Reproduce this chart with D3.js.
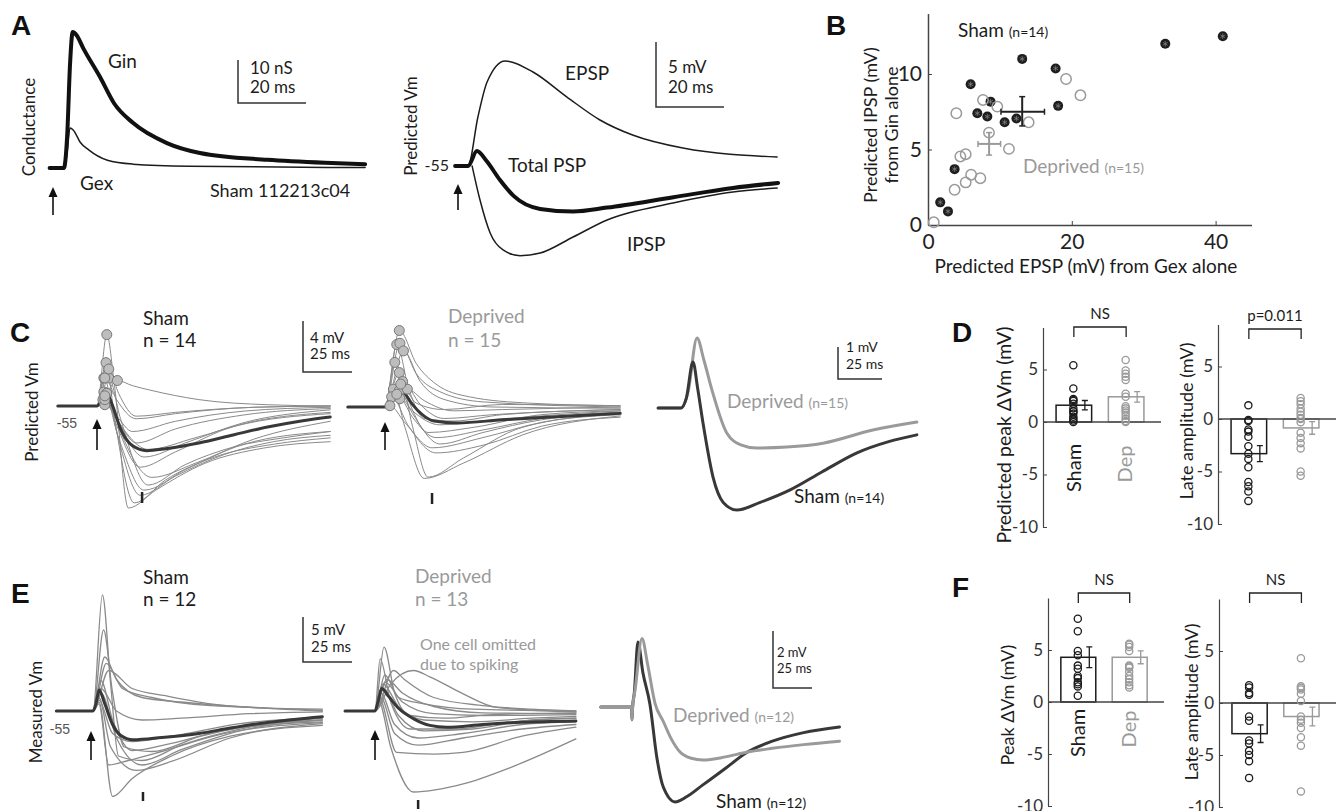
<!DOCTYPE html>
<html lang="en">
<head>
<meta charset="UTF-8">
<title>Predicted and measured PSPs</title>
<script src="https://d3js.org/d3.v7.min.js"></script>
<style>
  body { margin: 0; background: #fff; }
  svg { display: block; font-family: Lato, "Open Sans", sans-serif; }
</style>
</head>
<body>
<svg width="1339" height="811"></svg>
<script>
// ---- panel A: example cell (time ms, conductance nS / Vm mV re -55)
const gInTrace = [[-1,0],[3.2,0],[4.2,8],[5,24],[5.8,31.6],[7,30.8],[8.8,28],[13.8,21.2],[18,15],[23.5,10.5],[33.5,5.8],[43.2,3.5],[63,1.9],[80,1.2],[91.8,0.9]];
const gExTrace = [[-1,0],[3.4,0],[4.2,4],[5,9.3],[6,8.8],[8,6],[10.5,4.2],[16,1.8],[23.5,0.9],[40,0.4],[91.8,0.1]];
const epspTrace = [[-3.2,0],[0.6,0],[3.5,3.77],[6.2,6.46],[11.5,8.08],[19.7,7.23],[29.7,5.3],[39.4,3.54],[49,2.38],[63.8,1.38],[91.5,0.69]];
const totalTrace = [[-3.2,0],[0.6,0],[3.2,1.15],[6,0.4],[10,-1.08],[14,-2.3],[21.8,-3.3],[31.5,-3.5],[41.5,-3.2],[61,-2.4],[78.5,-1.69],[91.8,-1.3]];
const ipspTrace = [[1.8,0],[4.1,-2.6],[7.1,-5.15],[10.9,-6.46],[15.9,-6.9],[21.8,-6.7],[31.5,-5.46],[41.5,-4.15],[60.9,-2.85],[78.5,-2.0],[91.5,-1.7]];

// ---- panel B: predicted EPSP (x) vs IPSP (y), mV
const bSham = [[41.0,12.5],[33.0,12.0],[13.1,11.0],[17.75,10.37],[5.93,9.32],[8.7,8.17],[18.1,7.89],[6.86,7.4],[8.25,7.18],[12.3,7.05],[10.66,6.8],[3.7,3.7],[1.7,1.5],[2.78,0.9]];
const bDep = [[0.8,0.18],[3.7,2.33],[5.24,2.82],[6.0,3.33],[7.28,3.1],[4.5,4.54],[5.24,4.69],[3.94,7.4],[7.65,8.28],[9.64,7.84],[8.48,6.12],[11.26,5.04],[14.0,6.8],[19.2,9.67],[21.2,8.59]];
// mean x, mean y, x low, x high, y low, y high
const bShamMean = [13.1, 7.5, 10.15, 16.2, 6.56, 8.5];
const bDepMean = [8.5, 5.37, 6.95, 10.1, 4.63, 6.12];
const bXTicks = [0, 20, 40];
const bYTicks = [0, 5, 10];

// ---- panel C: predicted Vm per cell (ms, mV re -55)
const cShamCells = [
  [[-20,0],[0,0],[5,5.6],[9,1.5],[16,-8.0],[30,-6.6],[55,-4.5],[85,-3.3],[119,-2.8]],
  [[-20,0],[0,0],[4.6,3.4],[9,-1.0],[19,-7.6],[35,-5.8],[60,-4.0],[90,-3.0],[119,-2.5]],
  [[-20,0],[0,0],[3.5,2.2],[10,-2.0],[22,-7.0],[40,-5.5],[65,-3.8],[90,-2.8],[119,-2.3]],
  [[-20,0],[0,0],[6,2.2],[12,-1.0],[26,-6.2],[45,-4.6],[70,-3.2],[95,-2.5],[119,-2.0]],
  [[-20,0],[0,0],[10.4,2.0],[18,1.6],[27,1.25],[52,0.5],[87,0.1],[119,0]],
  [[-20,0],[0,0],[3.5,1.1],[10,-1.5],[22,-4.8],[40,-3.6],[70,-1.6],[119,-0.6]],
  [[-20,0],[0,0],[5,1.0],[11,-1.2],[24,-4.0],[45,-2.9],[75,-1.3],[119,-0.3]],
  [[-20,0],[0,0],[3,0.5],[10,-1.0],[20,-2.9],[40,-1.8],[75,-0.7],[119,-0.2]],
  [[-20,0],[0,0],[4,0.1],[10,-0.8],[18,-2.0],[40,-1.2],[75,-0.4],[119,-0.1]],
  [[-20,0],[0,0],[4,2.2],[10,0.5],[20,-1.0],[40,-0.6],[80,-0.1],[119,0]],
  [[-20,0],[0,0],[5,1.0],[12,-2.0],[28,-5.6],[50,-4.5],[80,-2.6],[119,-1.2]],
  [[-20,0],[0,0],[4,0.5],[12,-1.5],[26,-3.4],[50,-2.5],[80,-1.2],[119,-0.5]],
  [[-20,0],[0,0],[6,2.9],[11,1.0],[20,-0.8],[40,-0.5],[80,-0.1],[119,0]],
  [[-20,0],[0,0],[4,0.8],[11,-2.5],[24,-6.6],[45,-5.0],[75,-3.0],[119,-2.0]]
];
const cShamMean = [[-20,0],[0,0],[2,0.4],[4.6,1.1],[8,0],[12,-1.8],[18,-3.1],[25.5,-3.5],[35,-3.35],[52,-2.9],[70,-2.25],[87,-1.65],[105,-1.15],[119,-0.86]];
const cDepCells = [
  [[-19,0],[0,0],[7.3,6.0],[16,3.4],[26,1.8],[43,0.8],[74,0.3],[120,0.1]],
  [[-19,0],[0,0],[6,4.9],[12,1.5],[20,-0.9],[35,-1.1],[60,-0.6],[120,-0.2]],
  [[-19,0],[0,0],[7.6,5.0],[16,2.6],[28,1.2],[50,0.4],[120,0]],
  [[-19,0],[0,0],[9.4,4.4],[18,2.0],[30,0.6],[55,0.0],[120,-0.1]],
  [[-19,0],[0,0],[7.3,2.7],[14,-1.5],[22,-5.5],[40,-4.0],[70,-1.6],[120,-0.5]],
  [[-19,0],[0,0],[4.3,1.4],[10,-1.5],[20,-5.6],[40,-4.4],[70,-2.2],[120,-0.7]],
  [[-19,0],[0,0],[7.3,1.3],[14,-0.5],[28,-2.9],[50,-2.0],[80,-1.0],[120,-0.5]],
  [[-19,0],[0,0],[11.4,1.4],[20,0.5],[35,-0.3],[60,-0.2],[120,0]],
  [[-19,0],[0,0],[3.4,0.8],[12,-1.5],[26,-3.6],[50,-3.0],[80,-1.5],[120,-0.8]],
  [[-19,0],[0,0],[7.6,0.65],[14,-0.8],[26,-2.4],[50,-1.8],[80,-0.9],[120,-0.4]],
  [[-19,0],[0,0],[2.5,0.1],[10,-1.2],[24,-3.2],[50,-2.4],[80,-1.2],[120,-0.6]],
  [[-19,0],[0,0],[6,1.0],[14,-0.3],[28,-1.4],[55,-1.0],[120,-0.3]],
  [[-19,0],[0,0],[9,2.0],[18,0.2],[30,-0.9],[55,-0.6],[120,-0.2]],
  [[-19,0],[0,0],[5,3.5],[12,0.5],[22,-2.0],[45,-1.6],[80,-0.6],[120,-0.3]],
  [[-19,0],[0,0],[8,1.8],[16,0.3],[30,-0.2],[60,0.2],[120,0.1]]
];
const cDepMean = [[-19,0],[0,0],[3,0.6],[7,1.8],[10.5,1.0],[14,0.2],[19,-0.6],[25,-1.1],[37,-1.25],[60,-1.0],[90,-0.75],[120,-0.5]];
const cShamAvg = [[-13,0],[0,0],[3,0.3],[6.8,1.44],[9.5,0.6],[12.5,-0.47],[18.2,-2.16],[24,-2.95],[31.8,-3.19],[45,-2.95],[62,-2.56],[80,-2.0],[100,-1.4],[118,-1.05],[134,-0.84]];
const cDepAvg = [[-13,0],[0,0],[4,0.5],[9.1,2.19],[13,1.5],[17.6,0.56],[26,-0.78],[34,-1.15],[43,-1.25],[60,-1.22],[80.7,-1.1],[109,-0.69],[134,-0.44]];

// ---- panel E: measured Vm per cell (ms, mV re -55)
const eShamCells = [
  [[-18.7,0],[0,0],[4.8,12.9],[9,3.0],[13,-5.0],[25,-5.5],[45,-3.8],[80,-1.8],[117,-0.8]],
  [[-18.7,0],[0,0],[5.4,9.0],[10,2.0],[16,-4.0],[30,-4.5],[55,-2.8],[85,-1.5],[117,-1.0]],
  [[-18.7,0],[0,0],[6,6.0],[12,3.5],[25,1.5],[45,1.0],[80,0.4],[117,0.1]],
  [[-18.7,0],[0,0],[6.8,5.3],[15,2.5],[30,1.5],[60,0.6],[117,0.2]],
  [[-18.7,0],[0,0],[8,4.5],[20,2.5],[37,1.7],[60,0.8],[90,0.3],[117,0]],
  [[-18.7,0],[0,0],[4,3.4],[10,-1.0],[20,-4.4],[40,-3.6],[70,-2.0],[117,-1.2]],
  [[-18.7,0],[0,0],[3,1.0],[10,-9.5],[20,-7.5],[40,-5.0],[70,-2.8],[117,-1.6]],
  [[-18.7,0],[0,0],[3,1.5],[9,-4.0],[22,-6.6],[40,-5.6],[70,-3.0],[117,-1.4]],
  [[-18.7,0],[0,0],[4,2.0],[12,-3.0],[25,-6.0],[45,-4.3],[75,-2.2],[117,-1.0]],
  [[-18.7,0],[0,0],[3,1.2],[10,-2.5],[20,-3.4],[40,-2.8],[75,-1.4],[117,-0.7]],
  [[-18.7,0],[0,0],[4,2.5],[12,0.0],[25,-1.0],[45,-0.8],[80,-0.3],[117,-0.1]],
  [[-18.7,0],[0,0],[3,0.8],[8,-6.0],[18,-5.5],[35,-4.5],[65,-2.6],[117,-1.3]]
];
const eShamMean = [[-18.7,0],[0,0],[1.5,0.8],[3.1,2.33],[6,0.8],[10,-1.5],[14,-2.7],[20.4,-3.2],[35,-2.95],[54,-2.5],[70,-1.9],[88,-1.3],[117,-0.63]];
const eDepCells = [
  [[-15.3,0],[0,0],[4.6,7.1],[10,2.0],[18,-0.5],[35,-0.8],[60,-0.4],[102.5,-0.2]],
  [[-15.3,0],[0,0],[2.6,5.8],[8,1.0],[18,-2.0],[40,-2.0],[70,-1.2],[102.5,-0.8]],
  [[-15.3,0],[0,0],[9.4,4.5],[15,3.5],[30,1.5],[55,0.6],[80,0.2],[102.5,0]],
  [[-15.3,0],[0,0],[8,3.0],[19.6,4.5],[28,3.8],[45,1.9],[62,0.4],[102.5,-0.1]],
  [[-15.3,0],[0,0],[2,1.0],[8,-4.0],[19.6,-9.0],[45,-8.1],[70,-6.2],[102.5,-3.1]],
  [[-15.3,0],[0,0],[2,1.5],[11,-4.6],[30,-4.8],[45,-4.6],[75,-2.8],[102.5,-1.8]],
  [[-15.3,0],[0,0],[4,3.0],[12,0.5],[25,-1.0],[50,-1.2],[80,-0.8],[102.5,-0.6]],
  [[-15.3,0],[0,0],[5,4.0],[12,1.5],[25,0.8],[50,0.2],[102.5,0]],
  [[-15.3,0],[0,0],[3,2.0],[10,-1.5],[22,-3.0],[45,-2.5],[75,-1.5],[102.5,-1.2]],
  [[-15.3,0],[0,0],[6,3.5],[14,2.0],[30,0.5],[55,-0.2],[102.5,-0.3]],
  [[-15.3,0],[0,0],[3,1.5],[10,-2.5],[22,-3.8],[45,-3.0],[75,-2.0],[102.5,-1.5]],
  [[-15.3,0],[0,0],[4,2.5],[12,-0.5],[25,-2.2],[50,-2.0],[80,-1.0],[102.5,-0.8]],
  [[-15.3,0],[0,0],[5,3.2],[14,1.0],[30,-0.3],[55,-0.5],[102.5,-0.4]]
];
const eDepMean = [[-15.3,0],[0,0],[1.5,1.0],[3.4,2.5],[7,1.6],[12,0.3],[20,-0.9],[28,-1.6],[36.6,-1.8],[55,-1.5],[75,-1.25],[102.5,-1.1]];
const eShamAvg = [[-20,0],[-0.3,0],[0,-0.45],[0.4,0],[1.5,0.5],[3.8,2.28],[7,1.2],[11.5,0.1],[16,-1.8],[20,-2.8],[27.6,-3.33],[35,-3.15],[45,-2.75],[60,-2.15],[74,-1.58],[90,-1.2],[110,-0.9],[133,-0.7]];
const eDepAvg = [[-20,0],[-0.3,0],[0,-0.45],[0.4,0],[2,0.6],[6.4,2.4],[10,1.5],[14.7,0.14],[20,-0.5],[25,-1.1],[30.8,-1.58],[38,-1.8],[45.5,-1.86],[60,-1.75],[74,-1.58],[90,-1.45],[110,-1.32],[133,-1.2]];

// ---- panels D and F: per-cell values (mV), means and SEM [Sham, Dep]
const groups = ["Sham", "Dep"];
const dPeakSham = [5.4, 3.2, 2.2, 2.1, 2.0, 1.75, 1.3, 1.05, 1.0, 0.8, 0.5, 0.3, 0.15, 0.0];
const dPeakDep = [5.9, 4.9, 4.6, 4.3, 4.0, 2.7, 2.4, 1.5, 1.3, 1.1, 0.9, 0.6, 0.3, 0.1, 0.0];
const dPeakMean = [1.6, 2.4], dPeakSem = [0.45, 0.5];
const dLateSham = [1.3, -0.1, -0.2, -1.0, -1.2, -1.7, -2.6, -3.3, -3.8, -4.6, -6.0, -6.4, -6.9, -7.8];
const dLateDep = [2.0, 1.7, 1.4, 1.0, 0.7, 0.4, 0.1, 0.0, -0.3, -1.3, -1.8, -2.3, -2.8, -5.0, -5.4];
const dLateMean = [-3.3, -0.85], dLateSem = [0.76, 0.6];
const fPeakSham = [8.0, 6.8, 4.9, 4.5, 3.5, 3.2, 2.5, 2.3, 1.9, 1.7, 1.5, 0.6];
const fPeakDep = [5.6, 5.5, 5.3, 4.9, 3.5, 3.4, 3.3, 2.9, 2.5, 2.2, 1.9, 1.6, 1.4];
const fPeakMean = [4.3, 4.3], fPeakSem = [1.0, 0.62];
const fLateSham = [1.7, 1.5, 0.95, 0.8, -1.3, -1.7, -3.6, -3.9, -4.6, -5.0, -5.6, -7.2];
const fLateDep = [4.3, 1.6, 1.45, 1.3, 0.9, 0.2, -1.3, -1.6, -1.9, -2.4, -3.3, -4.1, -8.5];
const fLateMean = [-2.95, -1.3], fLateSem = [0.85, 0.9];
const barTicks = [-10, -5, 0, 5];

const svg = d3.select("svg");
const ink = "#1c1c1c", grey = "#9a9a9a", cellGrey = "#8a8a8a", dark = "#383838";

function label(x, y, str, o = {}) {
  const t = svg.append("text").attr("x", x).attr("y", y)
    .attr("font-size", o.size || 18).attr("fill", o.fill || ink)
    .attr("text-anchor", o.anchor || "start");
  if (o.family) t.attr("font-family", o.family);
  if (o.bold) t.attr("font-weight", "bold");
  if (o.rotate) t.attr("transform", `rotate(-90,${x},${y})`);
  t.text(str);
  return t;
}
function letter(x, y, s) {
  label(x, y, s, { size: 28, bold: true, family: "'Liberation Sans', Arial, sans-serif", fill: "#111" });
}
function withN(x, y, name, n, fill, anchor) {
  const t = label(x, y, name + " ", { size: 19, fill: fill, anchor: anchor });
  t.append("tspan").attr("font-size", 14).text(n);
}

// time/amplitude scales for a trace panel
function traceScales(t0, pxPerMs, v0, pxPerUnit) {
  return {
    x: d3.scaleLinear().domain([0, 1]).range([t0, t0 + pxPerMs]),
    y: d3.scaleLinear().domain([0, 1]).range([v0, v0 - pxPerUnit])
  };
}
function trace(s, data, color, width) {
  const line = d3.line().x(d => s.x(d[0])).y(d => s.y(d[1])).curve(d3.curveMonotoneX);
  svg.append("path").datum(data).attr("d", line)
    .attr("fill", "none").attr("stroke", color).attr("stroke-width", width)
    .attr("stroke-linejoin", "round").attr("stroke-linecap", "round");
}
function scaleBar(s, cx, cy, amp, dur, lines, size) {
  const h = s.y(0) - s.y(amp), w = s.x(dur) - s.x(0);
  svg.append("path").attr("d", `M${cx},${cy - h}V${cy}H${cx + w}`)
    .attr("fill", "none").attr("stroke", "#333").attr("stroke-width", 1.5);
  lines.forEach(l => label(l[0], l[1], l[2], { size: size }));
}
function arrow(x, yTop, yBot) {
  svg.append("line").attr("x1", x).attr("x2", x).attr("y1", yTop + 6).attr("y2", yBot)
    .attr("stroke", "#111").attr("stroke-width", 1.6);
  svg.append("path").attr("d", `M${x - 4.5},${yTop + 10}L${x},${yTop}L${x + 4.5},${yTop + 10}Z`).attr("fill", "#111");
}
function lateMark(x, y1, y2) {
  svg.append("line").attr("x1", x).attr("x2", x).attr("y1", y1).attr("y2", y2)
    .attr("stroke", "#222").attr("stroke-width", 2.5);
}

// ================= A =================
letter(11, 35, "A");
const sA1 = traceScales(53, 3.4, 168, 4.3);
trace(sA1, gExTrace, ink, 1.5);
trace(sA1, gInTrace, "#111", 4);
label(35, 127, "Conductance", { rotate: true, anchor: "middle", size: 17 });
label(108, 68, "Gin", { size: 19 });
label(80, 190, "Gex", { size: 19 });
label(210, 197, "Sham 112213c04", { size: 18 });
scaleBar(sA1, 238, 103, 10, 20, [[250, 74, "10 nS"], [250, 93, "20 ms"]], 17);
arrow(53, 187, 215);

const sA2 = traceScales(466, 3.4, 166, 13);
trace(sA2, epspTrace, ink, 1.5);
trace(sA2, ipspTrace, ink, 1.5);
trace(sA2, totalTrace, "#111", 4);
label(417, 126, "Predicted Vm", { rotate: true, anchor: "middle", size: 17 });
label(449, 171, "-55", { anchor: "end", size: 16 });
label(565, 80, "EPSP", { size: 19 });
label(508, 172, "Total PSP", { size: 19 });
label(627, 251, "IPSP", { size: 19 });
scaleBar(sA2, 656, 107, 5, 20, [[668, 73, "5 mV"], [668, 93, "20 ms"]], 17);
arrow(458, 184, 210);

// ================= B =================
letter(826, 35, "B");
const bx = d3.scaleLinear().domain([0, 45]).range([928, 928 + 45 * 7.19]);
const by = d3.scaleLinear().domain([0, 14]).range([225, 225 - 14 * 15.1]);
const bxAxis = svg.append("g").attr("transform", "translate(0,225)")
  .call(d3.axisBottom(bx).tickValues(bXTicks).tickSize(-4).tickSizeOuter(0).tickPadding(9));
const byAxis = svg.append("g").attr("transform", "translate(928,0)")
  .call(d3.axisLeft(by).tickValues(bYTicks).tickSize(-4).tickSizeOuter(0).tickPadding(6));
[bxAxis, byAxis].forEach(g => {
  g.attr("font-family", null).attr("font-size", 21);
  g.select(".domain").attr("stroke", "#444").attr("stroke-width", 1.5);
  g.selectAll(".tick line").attr("stroke", "#444");
  g.selectAll(".tick text").attr("fill", "#222");
});
label(1086, 273, "Predicted EPSP (mV) from Gex alone", { anchor: "middle", size: 19 });
label(877, 125, "Predicted IPSP (mV)", { rotate: true, anchor: "middle", size: 18 });
label(898, 125, "from Gin alone", { rotate: true, anchor: "middle", size: 18 });

svg.append("g").selectAll("circle").data(bSham).join("circle")
  .attr("cx", d => bx(d[0])).attr("cy", d => by(d[1])).attr("r", 5).attr("fill", "#1e1e1e");
svg.append("g").selectAll("path").data(bSham).join("path")
  .attr("transform", d => `translate(${bx(d[0])},${by(d[1])})`)
  .attr("d", d3.symbol(d3.symbolAsterisk, 22)).attr("stroke", "#8a8a8a").attr("stroke-width", 0.7).attr("fill", "none");
svg.append("g").selectAll("circle").data(bDep).join("circle")
  .attr("cx", d => bx(d[0])).attr("cy", d => by(d[1])).attr("r", 5.2)
  .attr("fill", "none").attr("stroke", grey).attr("stroke-width", 1.5);

function errCross(m, color) {
  const g = svg.append("g").attr("stroke", color).attr("stroke-width", 2).attr("fill", "none");
  g.append("line").attr("x1", bx(m[2])).attr("x2", bx(m[3])).attr("y1", by(m[1])).attr("y2", by(m[1]));
  g.append("line").attr("x1", bx(m[0])).attr("x2", bx(m[0])).attr("y1", by(m[4])).attr("y2", by(m[5]));
  [m[2], m[3]].forEach(v => g.append("line").attr("x1", bx(v)).attr("x2", bx(v))
    .attr("y1", by(m[1]) - 3).attr("y2", by(m[1]) + 3).attr("stroke-width", 1.5));
  [m[4], m[5]].forEach(v => g.append("line").attr("x1", bx(m[0]) - 3).attr("x2", bx(m[0]) + 3)
    .attr("y1", by(v)).attr("y2", by(v)).attr("stroke-width", 1.5));
}
errCross(bShamMean, "#222");
errCross(bDepMean, grey);
withN(958, 37, "Sham", "(n=14)", ink);
withN(1023, 173, "Deprived", "(n=15)", grey);

// ================= C =================
letter(10, 342, "C");
const sC1 = traceScales(97, 1.96, 406, 12.75);
cShamCells.forEach(c => trace(sC1, c, cellGrey, 1));
trace(sC1, cShamMean, dark, 3);
svg.append("g").selectAll("circle").data(cShamCells.map(c => d3.greatest(c, d => d[1]))).join("circle")
  .attr("cx", d => sC1.x(d[0])).attr("cy", d => sC1.y(d[1])).attr("r", 5)
  .attr("fill", "#bdbdbd").attr("stroke", "#777").attr("stroke-width", 1);
label(38, 412, "Predicted Vm", { rotate: true, anchor: "middle", size: 17 });
label(77, 428, "-55", { anchor: "end", size: 14, fill: "#555", family: "'Liberation Sans', Arial, sans-serif" });
label(143, 325, "Sham", { size: 19 });
label(143, 347, "n = 14", { size: 19 });
scaleBar(sC1, 303, 372, 4, 25, [[310, 343, "4 mV"], [310, 359, "25 ms"]], 15);
arrow(97, 419, 450);
lateMark(sC1.x(23), 492, 503);

const sC2 = traceScales(385, 1.96, 407, 12.75);
cDepCells.forEach(c => trace(sC2, c, cellGrey, 1));
trace(sC2, cDepMean, dark, 3);
svg.append("g").selectAll("circle").data(cDepCells.map(c => d3.greatest(c, d => d[1]))).join("circle")
  .attr("cx", d => sC2.x(d[0])).attr("cy", d => sC2.y(d[1])).attr("r", 5)
  .attr("fill", "#bdbdbd").attr("stroke", "#777").attr("stroke-width", 1);
label(448, 323, "Deprived", { size: 19, fill: grey });
label(448, 347, "n = 15", { size: 19, fill: grey });
arrow(385, 422, 450);
lateMark(sC2.x(24), 493, 504);

const sC3 = traceScales(681, 1.76, 408, 32);
trace(sC3, cDepAvg, grey, 3);
trace(sC3, cShamAvg, dark, 3);
scaleBar(sC3, 838, 379, 1, 25, [[846, 352, "1 mV"], [846, 369, "25 ms"]], 14);
withN(727, 408, "Deprived", "(n=15)", grey);
withN(794, 503, "Sham", "(n=14)", ink);

// ================= E =================
letter(11, 603, "E");
const sE1 = traceScales(93, 1.96, 711, 9);
eShamCells.forEach(c => trace(sE1, c, cellGrey, 1.3));
trace(sE1, eShamMean, dark, 3);
label(42, 712, "Measured Vm", { rotate: true, anchor: "middle", size: 17 });
label(70, 734, "-55", { anchor: "end", size: 14, fill: "#555", family: "'Liberation Sans', Arial, sans-serif" });
label(143, 584, "Sham", { size: 19 });
label(143, 606, "n = 12", { size: 19 });
scaleBar(sE1, 303, 662, 5, 25, [[311, 635, "5 mV"], [311, 652, "25 ms"]], 15);
arrow(91, 731, 760);
lateMark(sE1.x(25.5), 792, 801);

const sE2 = traceScales(375, 1.96, 711, 9);
eDepCells.forEach(c => trace(sE2, c, cellGrey, 1.3));
trace(sE2, eDepMean, dark, 3);
label(415, 583, "Deprived", { size: 19, fill: grey });
label(415, 606, "n = 13", { size: 19, fill: grey });
label(420, 650, "One cell omitted", { size: 16, fill: grey });
label(420, 670, "due to spiking", { size: 16, fill: grey });
arrow(375, 730, 760);
lateMark(sE2.x(22), 800, 809);

const sE3 = traceScales(632, 1.56, 707, 28.5);
trace(sE3, eShamAvg, dark, 3);
trace(sE3, eDepAvg, grey, 3);
scaleBar(sE3, 773, 688, 2, 25, [[777, 657, "2 mV"], [777, 673, "25 ms"]], 13);
withN(673, 722, "Deprived", "(n=12)", grey);
withN(716, 808, "Sham", "(n=12)", ink);

// ================= D / F bar panels =================
function barPanel(p) {
  const y = d3.scaleLinear().domain([-10, p.top]).range([p.zeroY + 10 * p.ppu, p.zeroY - p.top * p.ppu]);
  const x = d3.scaleBand().domain(groups).range([p.axisX, p.endX]).paddingInner(0.32).paddingOuter(0.25);
  const cx = g => x(g) + x.bandwidth() / 2;
  const colors = [ink, grey];
  const ax = svg.append("g").attr("transform", `translate(${p.axisX},0)`)
    .call(d3.axisLeft(y).tickValues(barTicks).tickSize(-4).tickSizeOuter(0).tickPadding(5).tickFormat(d => String(d)));
  ax.attr("font-family", null).attr("font-size", 17);
  ax.select(".domain").attr("stroke", "#444").attr("stroke-width", 1.2);
  ax.selectAll(".tick line").attr("stroke", "#444");
  ax.selectAll(".tick text").attr("fill", "#333");

  groups.forEach((g, i) => {
    svg.append("rect").attr("x", x(g)).attr("width", x.bandwidth())
      .attr("y", Math.min(y(0), y(p.mean[i]))).attr("height", Math.abs(y(0) - y(p.mean[i])))
      .attr("fill", "#fff").attr("stroke", colors[i]).attr("stroke-width", 1.5);
  });
  svg.append("line").attr("x1", p.axisX).attr("x2", p.endX + 4).attr("y1", y(0)).attr("y2", y(0))
    .attr("stroke", "#444").attr("stroke-width", 1.6);
  [p.sham, p.dep].forEach((vals, i) => {
    svg.append("g").selectAll("circle").data(vals).join("circle")
      .attr("cx", cx(groups[i]) - 0.5).attr("cy", d => y(d)).attr("r", 3.6)
      .attr("fill", "none").attr("stroke", colors[i]).attr("stroke-width", 1.3);
    const ex = cx(groups[i]) + 11, lo = y(p.mean[i] - p.sem[i]), hi = y(p.mean[i] + p.sem[i]);
    svg.append("path").attr("d", `M${ex},${lo}V${hi}M${ex - 3},${lo}H${ex + 3}M${ex - 3},${hi}H${ex + 3}`)
      .attr("stroke", colors[i]).attr("stroke-width", 1.3).attr("fill", "none");
  });
  const x1 = cx("Sham"), x2 = cx("Dep");
  svg.append("path").attr("d", `M${x1},${p.brY + 10}V${p.brY}H${x2}V${p.brY + 10}`)
    .attr("fill", "none").attr("stroke", "#222").attr("stroke-width", 1.3);
  label((x1 + x2) / 2, p.brY - 8, p.stat, { anchor: "middle", size: 15 });
  label(p.labX, p.labY, p.yLabel, { rotate: true, anchor: "middle", size: p.labSize || 18 });
  if (p.cats) {
    label(x1 + 7, p.catY, "Sham", { rotate: true, anchor: "middle", size: 20, fill: ink });
    label(x2 + 6, p.catY - 4, "Dep", { rotate: true, anchor: "middle", size: 20, fill: grey });
  }
}

letter(952, 342, "D");
barPanel({ axisX: 1043, endX: 1157, zeroY: 422, ppu: 10.5, top: 9, sham: dPeakSham, dep: dPeakDep,
  mean: dPeakMean, sem: dPeakSem, brY: 327, stat: "NS", yLabel: "Predicted peak \u0394Vm (mV)",
  labX: 1011, labY: 435, labSize: 19.5, cats: true, catY: 468 });
barPanel({ axisX: 1218, endX: 1332, zeroY: 419, ppu: 10.5, top: 9, sham: dLateSham, dep: dLateDep,
  mean: dLateMean, sem: dLateSem, brY: 329, stat: "p=0.011", yLabel: "Late amplitude (mV)",
  labX: 1193, labY: 421, cats: false });

letter(952, 597, "F");
barPanel({ axisX: 1048, endX: 1160, zeroY: 702, ppu: 10.4, top: 10, sham: fPeakSham, dep: fPeakDep,
  mean: fPeakMean, sem: fPeakSem, brY: 593, stat: "NS", yLabel: "Peak \u0394Vm (mV)",
  labX: 1014, labY: 705, cats: true, catY: 733 });
barPanel({ axisX: 1219, endX: 1332, zeroY: 703, ppu: 10.4, top: 10, sham: fLateSham, dep: fLateDep,
  mean: fLateMean, sem: fLateSem, brY: 593, stat: "NS", yLabel: "Late amplitude (mV)",
  labX: 1198, labY: 702, cats: false });
</script>
</body>
</html>
